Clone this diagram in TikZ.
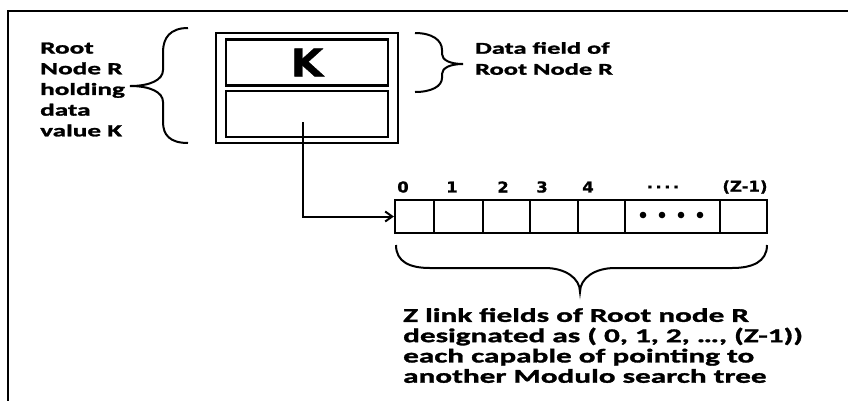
\documentclass[tikz,border=0pt]{standalone}
\usepackage{fontspec}
\setmainfont{Carlito}[FakeStretch=1.6, BoldFeatures={FakeBold=1.6}]
\newfontfamily\idxfont{DejaVu Sans}[FakeStretch=1.1, BoldFeatures={FakeBold=1}]
\usepackage{tikz}
\usetikzlibrary{arrows.meta, calc, positioning}

\tikzset{
  fieldbox/.style={draw, line width=2.2pt, inner sep=0pt},
  cellbox/.style={draw, line width=2.2pt, inner sep=0pt, minimum height=33pt},
  bracepath/.style={line width=2pt},
  notetext/.style={inner sep=0pt, anchor=west, align=left, font=\bfseries}
}

\begin{document}
\begin{tikzpicture}[x=1pt, y=-1pt, >={Straight Barb[length=7pt, width=10pt]}]
    \useasboundingbox (0,0) rectangle (848,400);
    \clip (0,0) rectangle (848,400);

    % frame
    \draw[line width=2.8pt] (8,11) rectangle (870,420);

    % root node R
    \node[fieldbox, minimum width=182pt, minimum height=110pt] (root) at (307,88) {};
    \node[fieldbox, minimum width=162pt, minimum height=46pt] (data) at (307,62.5)
        {\idxfont\bfseries\fontsize{38}{38}\selectfont K};
    \node[fieldbox, minimum width=162pt, minimum height=46pt] (link) at (307,114) {};

    % link fields
    \foreach \i/\a/\b in {0/395/434, 1/434/483, 2/483/530, 3/530/578, 4/578/625, 5/625/720, 6/720/767} {
        \node[cellbox, minimum width={(\b-\a)*1pt}] (c\i) at ({(\a+\b)/2},216.5) {};
    }
    \foreach \x/\l in {403/0, 452/1, 503/2, 542/3, 588/4, 663/{.\,.\,.\,.}, 745/{(Z-1)}} {
        \node[inner sep=0pt, font=\idxfont\bfseries\fontsize{15}{15}\selectfont] at (\x,187) {\l};
    }
    \foreach \x in {643, 662, 681, 700} {
        \fill (\x,215) circle (3.3pt);
    }

    % pointer
    \coordinate (p) at ($(link.center)+(-4,8)$);
    \draw[->, line width=2pt] (p) |- (c0.west);

    % braces
    \draw[bracepath] (188,28) .. controls (170,28) and (163,38) .. (163,52) -- (163,70)
        .. controls (163,80) and (150,86) .. (130,86)
        .. controls (150,86) and (163,92) .. (163,102) -- (163,122)
        .. controls (163,135) and (170,143) .. (188,143);
    \draw[bracepath] (415,33) .. controls (432,33) and (442,40) .. (442,50) -- (442,54)
        .. controls (442,60) and (450,64) .. (463,64)
        .. controls (450,64) and (442,68) .. (442,74) -- (442,78)
        .. controls (442,86) and (432,92) .. (415,92);
    \draw[bracepath] (396,245) .. controls (396,262) and (410,268) .. (430,268) -- (545,268)
        .. controls (565,268) and (580,278) .. (580,292)
        .. controls (580,278) and (595,268) .. (615,268) -- (732,268)
        .. controls (752,268) and (767,262) .. (767,245);

    % texts
    \node[notetext, font=\bfseries\fontsize{17}{20.7}\selectfont] (rootlbl) at (40,89.5)
        {Root\\Node R\\holding\\data\\value K};
    \node[notetext, font=\bfseries\fontsize{16.5}{21}\selectfont] (datalbl) at (475,58.5)
        {Data field of\\Root Node R};
    \node[notetext, font=\bfseries\fontsize{19.5}{20.3}\selectfont] (linklbl) at (403,345.5)
        {Z link fields of Root node R\\designated as ( 0, 1, 2, \dots, (Z-1))\\each capable of pointing to\\another Modulo search tree};
\end{tikzpicture}
\end{document}
